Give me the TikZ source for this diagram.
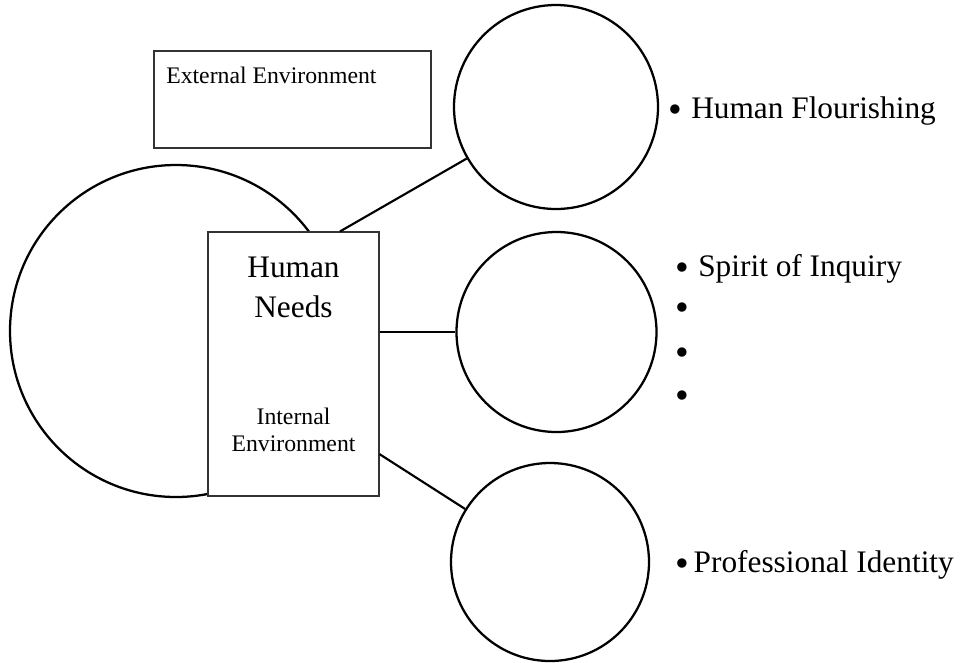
\documentclass[tikz,border=0pt]{standalone}
\usepackage{fontspec}
\setmainfont{Liberation Serif}
\usetikzlibrary{calc, positioning}

\newcommand{\dotmark}{\raisebox{-3.5pt}{\scalebox{1.25}{\textbullet}}}

\begin{document}
\begin{tikzpicture}[x=0.75pt, y=-0.75pt,
    ring/.style={circle, draw, line width=1.7pt, inner sep=0pt, minimum size=150pt},
    box/.style={draw=black!80, line width=0.8pt, fill=white, inner sep=0pt},
    link/.style={line width=1.6pt},
    big/.style={font=\fontsize{23.5}{28}\selectfont, inner sep=0pt, anchor=base},
    small/.style={font=\fontsize{17.8}{21}\selectfont, inner sep=0pt, anchor=base},
    item/.style={font=\fontsize{23.5}{28}\selectfont, inner sep=0pt, anchor=base west}]
    \useasboundingbox (0,0) rectangle (961,662);

    % outer circle and the two boxes
    \node[ring, minimum size=249pt] (self) at (176,331) {};
    \node[box, minimum width=207.75pt, minimum height=72.75pt] (ext) at (292.5,99.5) {};
    \node[small, anchor=base west] (extlbl) at (166,83) {External Environment};
    \node[box, minimum width=128.25pt, minimum height=198pt] (hn) at (293.5,364) {};
    \node[big] (hnA) at (293.5,277) {Human};
    \node[big] (hnB) at (293.5,317) {Needs};
    \node[small] (intA) at (293.5,424) {Internal};
    \node[small] (intB) at (293.5,451) {Environment};

    % the three circles on the right
    \node[ring, minimum size=153pt] (flour) at (556,107) {};
    \node[ring] (inq) at (556.5,332) {};
    \node[ring, minimum size=148.5pt] (ident) at (550,562) {};

    \draw[link] ($(hn.north west)!0.77!(hn.north east)$) -- (flour.210);
    \draw[link] (inq.west -| hn.east) -- (inq.west);
    \draw[link] ($(hn.north east)!0.84!(hn.south east)$) -- (ident.148);

    % bullet lists
    \node[item] (flourtxt) at (668,118) {\dotmark\hspace{7pt}Human Flourishing};
    \node[item] (inqtxt) at (675,276) {\dotmark\hspace{7pt}Spirit of Inquiry};
    \node[item] (dotA) at (675,316) {\dotmark};
    \node[item] (dotB) at (675,361) {\dotmark};
    \node[item] (dotC) at (675,404) {\dotmark};
    \node[item] (identtxt) at (675,572) {\dotmark\hspace{3.5pt}Professional Identity};
\end{tikzpicture}
\end{document}
